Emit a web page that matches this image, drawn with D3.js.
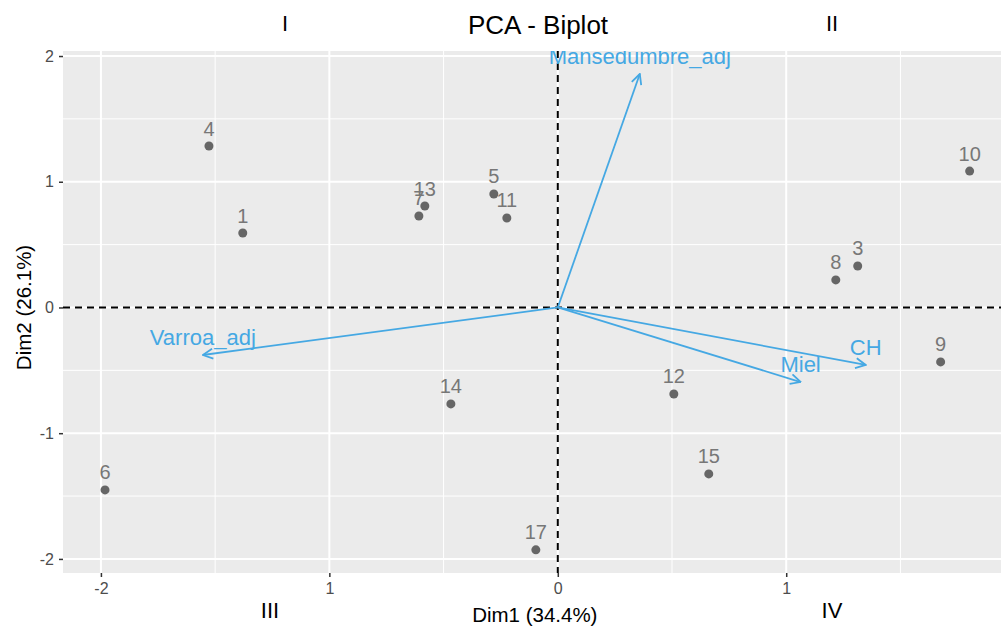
<!DOCTYPE html>
<html><head><meta charset="utf-8">
<script src="https://cdn.jsdelivr.net/npm/d3@7"></script>
<style>body{margin:0;background:#fff}svg{display:block}text{font-family:"Liberation Sans",Arial,sans-serif}</style>
</head><body><svg id="c" width="1001" height="629"></svg>
<script>
const indNames = ["1","3","4","5","6","7","8","9","10","11","12","13","14","15","17"];
const indDim1 = [-1.379,1.313,-1.527,-0.280,-1.982,-0.608,1.217,1.676,1.803,-0.223,0.508,-0.582,-0.468,0.661,-0.096];
const indDim2 = [0.592,0.330,1.284,0.903,-1.451,0.728,0.219,-0.433,1.085,0.712,-0.688,0.807,-0.767,-1.324,-1.928];
const varNames = ["Mansedumbre_adj","Varroa_adj","CH","Miel"];
const varDim1 = [0.359,-1.554,1.348,1.063];
const varDim2 = [1.857,-0.378,-0.457,-0.593];
const xTicks = [-2,-1,0,1];
const xTickLabels = ["-2","1","0","1"];
const yTicks = [-2,-1,0,1,2];
const yTickLabels = ["-2","-1","0","1","2"];
const xMinor = [-1.5,-0.5,0.5,1.5];
const yMinor = [-1.5,-0.5,0.5,1.5];
const quadrants = [["I",285,31],["II",832,31],["III",270,618],["IV",832,618]];

const svg = d3.select("#c");
const L=63,R=1003,T=51,B=573;
const x = d3.scaleLinear().domain([-2.166,1.949]).range([L,R]);
const y = d3.scaleLinear().domain([-2.112,2.04]).range([B,T]);

svg.append("defs").append("clipPath").attr("id","pc").append("rect").attr("x",L).attr("y",T).attr("width",R-L).attr("height",B-T);
svg.append("rect").attr("x",L).attr("y",T).attr("width",R-L).attr("height",B-T).attr("fill","#ebebeb");
const g = svg.append("g").attr("clip-path","url(#pc)");
g.selectAll(".xm").data(xMinor).join("line").attr("x1",d=>x(d)).attr("x2",d=>x(d)).attr("y1",T).attr("y2",B).attr("stroke","#fff").attr("stroke-width",1);
g.selectAll(".ym").data(yMinor).join("line").attr("y1",d=>y(d)).attr("y2",d=>y(d)).attr("x1",L).attr("x2",R).attr("stroke","#fff").attr("stroke-width",1);
g.selectAll(".xM").data(xTicks).join("line").attr("x1",d=>x(d)).attr("x2",d=>x(d)).attr("y1",T).attr("y2",B).attr("stroke","#fff").attr("stroke-width",2);
g.selectAll(".yM").data(yTicks).join("line").attr("y1",d=>y(d)).attr("y2",d=>y(d)).attr("x1",L).attr("x2",R).attr("stroke","#fff").attr("stroke-width",2);

// dashed axes
g.append("line").attr("x1",x(0)).attr("x2",x(0)).attr("y1",T).attr("y2",B).attr("stroke","#000").attr("stroke-width",2).attr("stroke-dasharray","7,5");
g.append("line").attr("y1",y(0)).attr("y2",y(0)).attr("x1",L).attr("x2",R).attr("stroke","#000").attr("stroke-width",2).attr("stroke-dasharray","7,5");

// axes
const xAxis = d3.axisBottom(x).tickValues(xTicks).tickSize(4).tickPadding(6).tickFormat((d,i)=>xTickLabels[i]);
const yAxis = d3.axisLeft(y).tickValues(yTicks).tickSize(4).tickPadding(5).tickFormat((d,i)=>yTickLabels[i]);
const ax = svg.append("g").attr("transform",`translate(0,${B})`).call(xAxis);
const ay = svg.append("g").attr("transform",`translate(${L},0)`).call(yAxis);
[ax,ay].forEach(a=>{a.select(".domain").remove();a.selectAll("line").attr("stroke","#333").attr("stroke-width",1.5);a.selectAll("text").attr("fill","#4d4d4d").style("font-size","16px");});

// points
const pts = indNames.map((n,i)=>({n,x:indDim1[i],y:indDim2[i]}));
g.selectAll(".pt").data(pts).join("circle").attr("cx",d=>x(d.x)).attr("cy",d=>y(d.y)).attr("r",4.5).attr("fill","#666");
g.selectAll(".pl").data(pts).join("text").attr("x",d=>x(d.x)).attr("y",d=>y(d.y)-10.5).attr("text-anchor","middle").attr("fill","#777").style("font-size","20px").text(d=>d.n);

// arrows
const col="#45a8e3";
svg.select("defs").append("marker").attr("id","ah").attr("viewBox","0 0 12 12").attr("refX",11).attr("refY",6).attr("markerWidth",12).attr("markerHeight",12).attr("markerUnits","userSpaceOnUse").attr("orient","auto")
 .append("path").attr("d","M1,1 L11,6 L1,11").attr("fill","none").attr("stroke",col).attr("stroke-width",1.8);
const vars = varNames.map((n,i)=>({n,x:varDim1[i],y:varDim2[i]}));
g.selectAll(".ar").data(vars).join("line").attr("x1",x(0)).attr("y1",y(0)).attr("x2",d=>x(d.x)).attr("y2",d=>y(d.y)).attr("stroke",col).attr("stroke-width",1.8).attr("marker-end","url(#ah)");
g.selectAll(".vl").data(vars).join("text").attr("x",d=>x(d.x)).attr("y",d=>y(d.y)-10).attr("text-anchor","middle").attr("fill",col).style("font-size","22px").text(d=>d.n);

svg.append("text").attr("x",538).attr("y",34).attr("text-anchor","middle").style("font-size","26px").attr("fill","#000").text("PCA - Biplot");
quadrants.forEach(q=>svg.append("text").attr("x",q[1]).attr("y",q[2]).attr("text-anchor","middle").style("font-size","22px").attr("fill","#000").text(q[0]));
svg.append("text").attr("x",x(0)-23).attr("y",622).attr("text-anchor","middle").style("font-size","20.5px").attr("fill","#000").text("Dim1 (34.4%)");
svg.append("text").attr("transform",`translate(31,${y(0)}) rotate(-90)`).attr("text-anchor","middle").style("font-size","20.5px").attr("fill","#000").text("Dim2 (26.1%)");
</script></body></html>
